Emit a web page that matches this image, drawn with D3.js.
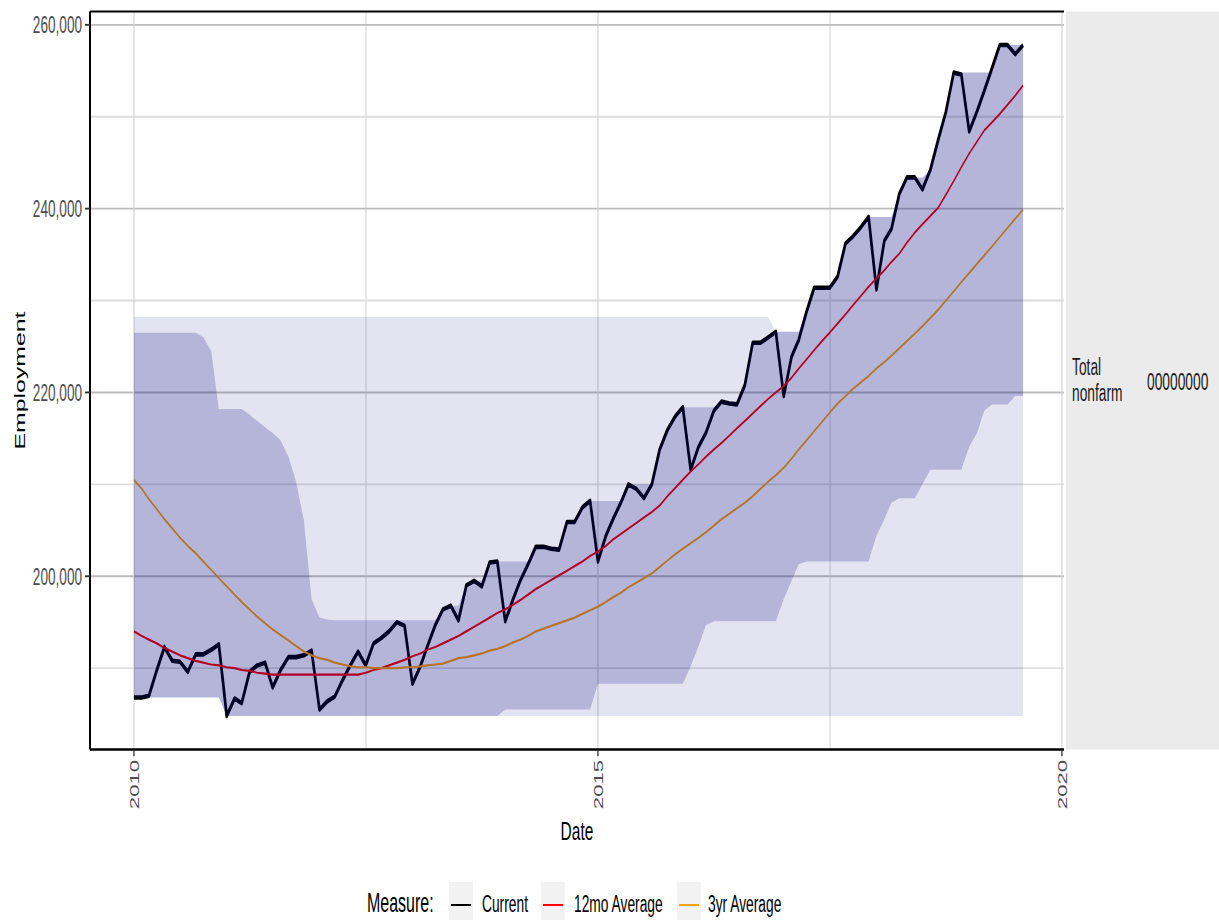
<!DOCTYPE html>
<html><head><meta charset="utf-8">
<script src="https://cdn.jsdelivr.net/npm/d3@7"></script>
<style>html,body{margin:0;padding:0;background:#fff;} svg{display:block;}</style>
</head><body><div id="chart"></div>
<script>
// ---- data (thousands of employees), monthly from Jan 2010 ----
const startYear = 2010;
const current = [
186.8,186.8,187.0,189.8,192.3,190.8,190.7,189.6,191.5,191.5,192.0,192.6,
184.8,186.7,186.2,189.6,190.3,190.6,187.9,189.8,191.2,191.2,191.4,191.9,
185.5,186.4,186.9,188.7,190.3,191.8,190.3,192.7,193.3,194.0,195.0,194.6,
188.3,190.2,192.4,194.7,196.4,196.8,195.2,199.0,199.5,198.9,201.5,201.6,
195.1,197.5,199.5,201.3,203.2,203.2,203.0,202.9,205.9,205.9,207.5,208.2,
201.6,204.4,206.2,208.0,210.0,209.5,208.5,210.0,213.8,215.9,217.4,218.4,
211.6,214.1,215.6,218.0,219.0,218.8,218.7,220.8,225.4,225.4,226.0,226.6,
219.6,223.9,225.7,228.8,231.4,231.4,231.4,232.6,236.2,237.0,238.0,239.1,
231.2,236.5,237.8,241.6,243.4,243.4,242.1,244.2,247.5,250.5,254.8,254.6,
248.4,250.6,252.8,255.3,257.8,257.8,256.8,257.8];
const avg12 = [
194.0,193.5,193.1,192.7,192.2,191.8,191.4,191.1,190.8,190.6,190.4,190.3,
190.1,190.0,189.8,189.7,189.5,189.4,189.3,189.3,189.3,189.3,189.3,189.3,
189.3,189.3,189.3,189.3,189.3,189.3,189.5,189.8,190.0,190.3,190.6,190.9,
191.3,191.6,192.0,192.3,192.7,193.1,193.5,194.0,194.5,195.0,195.5,196.0,
196.4,196.9,197.4,198.0,198.6,199.1,199.6,200.1,200.6,201.1,201.6,202.2,
202.7,203.3,204.0,204.6,205.2,205.8,206.4,207.0,207.7,208.7,209.6,210.5,
211.4,212.2,213.0,213.8,214.5,215.3,216.1,216.9,217.7,218.5,219.3,220.0,
220.7,221.6,222.6,223.6,224.6,225.6,226.5,227.5,228.5,229.5,230.5,231.5,
232.4,233.3,234.2,235.1,236.3,237.4,238.3,239.2,240.1,241.5,243.0,244.5,
246.0,247.3,248.5,249.4,250.3,251.3,252.3,253.4];
const avg3y = [
210.5,209.5,208.4,207.3,206.2,205.2,204.2,203.3,202.5,201.6,200.7,199.8,
198.9,198.0,197.2,196.4,195.6,194.9,194.2,193.6,193.0,192.4,191.8,191.4,
191.1,190.9,190.6,190.4,190.2,190.1,190.1,190.0,190.0,190.0,190.0,190.1,
190.1,190.2,190.3,190.4,190.5,190.8,191.1,191.2,191.4,191.6,191.9,192.1,
192.4,192.8,193.1,193.5,194.0,194.3,194.6,194.9,195.2,195.5,195.9,196.3,
196.7,197.2,197.7,198.2,198.8,199.3,199.8,200.3,201.0,201.7,202.4,203.0,
203.6,204.2,204.8,205.5,206.2,206.8,207.4,208.0,208.7,209.5,210.3,211.0,
211.8,212.8,213.8,214.8,215.8,216.8,217.8,218.8,219.6,220.4,221.1,221.8,
222.6,223.3,224.0,224.8,225.6,226.4,227.2,228.1,229.0,230.0,231.0,232.0,
233.0,234.0,234.9,235.9,236.9,237.9,238.9,239.9];
// 3-year range band (darker)
const band3Lo = [
186.8,186.8,186.8,186.8,186.8,186.8,186.8,186.8,186.8,186.8,186.8,186.8,
184.8,184.8,184.8,184.8,184.8,184.8,184.8,184.8,184.8,184.8,184.8,184.8,
184.8,184.8,184.8,184.8,184.8,184.8,184.8,184.8,184.8,184.8,184.8,184.8,
184.8,184.8,184.8,184.8,184.8,184.8,184.8,184.8,184.8,184.8,184.8,184.8,
185.5,185.5,185.5,185.5,185.5,185.5,185.5,185.5,185.5,185.5,185.5,185.5,
188.3,188.3,188.3,188.3,188.3,188.3,188.3,188.3,188.3,188.3,188.3,188.3,
190.2,192.4,194.7,195.1,195.1,195.1,195.1,195.1,195.1,195.1,195.1,195.1,
197.5,199.5,201.3,201.6,201.6,201.6,201.6,201.6,201.6,201.6,201.6,201.6,
204.4,206.2,208.0,208.5,208.5,208.5,210.0,211.6,211.6,211.6,211.6,211.6,
214.1,215.6,218.0,218.7,218.7,218.7,219.6,219.6];
const band3Hi = [
226.5,226.5,226.5,226.5,226.5,226.5,226.5,226.5,226.5,226.0,224.5,218.2,
218.2,218.2,218.2,217.6,216.9,216.2,215.6,214.8,213.0,210.3,206.0,197.5,
195.5,195.3,195.2,195.2,195.2,195.2,195.2,195.2,195.2,195.2,195.2,195.2,
195.2,195.2,195.2,195.2,196.4,196.8,196.8,199.0,199.5,199.5,201.5,201.6,
201.6,201.6,201.6,201.6,203.2,203.2,203.2,203.2,205.9,205.9,207.5,208.2,
208.2,208.2,208.2,208.2,210.0,210.0,210.0,210.0,213.8,215.9,217.4,218.4,
218.4,218.4,218.4,218.4,219.0,219.0,219.0,220.8,225.4,225.4,226.0,226.6,
226.6,226.6,226.6,228.8,231.4,231.4,231.4,232.6,236.2,237.0,238.0,239.1,
239.1,239.1,239.1,241.6,243.4,243.4,243.4,244.2,247.5,250.5,254.8,254.8,
254.8,254.8,254.8,254.8,257.8,257.8,257.8,257.8];
// long-run range band (lighter)
const band10Lo = [
186.8,186.8,186.8,186.8,186.8,186.8,186.8,186.8,186.8,186.8,186.8,186.8,
184.8,184.8,184.8,184.8,184.8,184.8,184.8,184.8,184.8,184.8,184.8,184.8,
184.8,184.8,184.8,184.8,184.8,184.8,184.8,184.8,184.8,184.8,184.8,184.8,
184.8,184.8,184.8,184.8,184.8,184.8,184.8,184.8,184.8,184.8,184.8,184.8,
184.8,184.8,184.8,184.8,184.8,184.8,184.8,184.8,184.8,184.8,184.8,184.8,
184.8,184.8,184.8,184.8,184.8,184.8,184.8,184.8,184.8,184.8,184.8,184.8,
184.8,184.8,184.8,184.8,184.8,184.8,184.8,184.8,184.8,184.8,184.8,184.8,
184.8,184.8,184.8,184.8,184.8,184.8,184.8,184.8,184.8,184.8,184.8,184.8,
184.8,184.8,184.8,184.8,184.8,184.8,184.8,184.8,184.8,184.8,184.8,184.8,
184.8,184.8,184.8,184.8,184.8,184.8,184.8,184.8];
const band10Hi = [
228.2,228.2,228.2,228.2,228.2,228.2,228.2,228.2,228.2,228.2,228.2,228.2,
228.2,228.2,228.2,228.2,228.2,228.2,228.2,228.2,228.2,228.2,228.2,228.2,
228.2,228.2,228.2,228.2,228.2,228.2,228.2,228.2,228.2,228.2,228.2,228.2,
228.2,228.2,228.2,228.2,228.2,228.2,228.2,228.2,228.2,228.2,228.2,228.2,
228.2,228.2,228.2,228.2,228.2,228.2,228.2,228.2,228.2,228.2,228.2,228.2,
228.2,228.2,228.2,228.2,228.2,228.2,228.2,228.2,228.2,228.2,228.2,228.2,
228.2,228.2,228.2,228.2,228.2,228.2,228.2,228.2,228.2,228.2,228.2,226.6,
226.6,226.6,226.6,228.8,231.4,231.4,231.4,232.6,236.2,237.0,238.0,239.1,
239.1,239.1,239.1,241.6,243.4,243.4,243.4,244.2,247.5,250.5,254.8,254.8,
254.8,254.8,254.8,254.8,257.8,257.8,257.8,257.8];

const yMajorTicks = [200, 220, 240, 260];
const yMinorTicks = [190, 210, 230, 250];
const xMajorTicks = [2010, 2015, 2020];
const xMinorTicks = [2012.5, 2017.5];
const xDomainYears = [2009.526, 2020.022];
const legendTitle = "Measure:";
const legendLabels = ["Current", "12mo Average", "3yr Average"];
const legendColors = ["#000000", "#ff0000", "#ffa500"];
const stripLabel = ["Total", "nonfarm"];
const stripCode = "00000000";
const xTitle = "Date", yTitle = "Employment";

// ---- layout ----
const W = 1219, H = 920, S = 1.7; // picture is stretched vertically
const L = 90, R = 1064, T = 11.5 / S, B = 749.5 / S;
const FONT = "'Liberation Sans', Arial, sans-serif";

const dates = current.map((_, i) => Date.UTC(startYear, i, 1));
const yr = v => { const f = Math.floor(v); return Date.UTC(f, 0, 1) + (v - f) * (Date.UTC(f + 1, 0, 1) - Date.UTC(f, 0, 1)); };

const x = d3.scaleUtc().domain(xDomainYears.map(yr)).range([L, R]);
const allV = current.concat(avg12, avg3y, band3Lo, band3Hi, band10Lo, band10Hi);
const vExt = d3.extent(allV);
const vPad = (vExt[1] - vExt[0]) * 0.05;
const y = d3.scaleLinear().domain([vExt[0] - vPad, vExt[1] + vPad]).range([B, T]);

const svg = d3.select("#chart").append("svg").attr("width", W).attr("height", H);
svg.append("rect").attr("width", W).attr("height", H).attr("fill", "#fff");
const g = svg.append("g").attr("transform", `scale(1,${S})`);

// panel
g.append("rect").attr("x", L).attr("y", T).attr("width", R - L).attr("height", B - T).attr("fill", "#fff");
// grid
g.selectAll(".ymin").data(yMinorTicks).join("line")
  .attr("x1", L).attr("x2", R).attr("y1", d => y(d)).attr("y2", d => y(d))
  .attr("stroke", "#dedede").attr("stroke-width", 1.1);
g.selectAll(".xmin").data(xMinorTicks).join("line")
  .attr("x1", d => x(yr(d))).attr("x2", d => x(yr(d))).attr("y1", T).attr("y2", B)
  .attr("stroke", "#d9d9d9").attr("stroke-width", 1.2);
g.selectAll(".ymaj").data(yMajorTicks).join("line")
  .attr("x1", L).attr("x2", R).attr("y1", d => y(d)).attr("y2", d => y(d))
  .attr("stroke", "#bdbdbd").attr("stroke-width", 1.1);
g.selectAll(".xmaj").data(xMajorTicks).join("line")
  .attr("x1", d => x(yr(d))).attr("x2", d => x(yr(d))).attr("y1", T).attr("y2", B)
  .attr("stroke", "#d3d3d3").attr("stroke-width", 1.2);

// lines (drawn under the translucent ribbons)
const mkLine = arr => d3.line().x((d, i) => x(dates[i])).y(d => y(d))(arr);
g.append("path").attr("d", mkLine(current)).attr("fill", "none")
  .attr("stroke", legendColors[0]).attr("stroke-width", 2.7).attr("stroke-linejoin", "round");
g.append("path").attr("d", mkLine(avg12)).attr("fill", "none")
  .attr("stroke", legendColors[1]).attr("stroke-width", 1.3).attr("stroke-linejoin", "round");
g.append("path").attr("d", mkLine(avg3y)).attr("fill", "none")
  .attr("stroke", legendColors[2]).attr("stroke-width", 1.3).attr("stroke-linejoin", "round");

// ribbons
const mkArea = (lo, hi) => d3.area().x((d, i) => x(dates[i])).y0((d, i) => y(lo[i])).y1((d, i) => y(hi[i]))(lo);
g.append("path").attr("d", mkArea(band10Lo, band10Hi)).attr("fill", "#000080").attr("fill-opacity", 0.11);
g.append("path").attr("d", mkArea(band3Lo, band3Hi)).attr("fill", "#000080").attr("fill-opacity", 0.2);

// axes & border
g.append("line").attr("x1", L).attr("x2", R).attr("y1", T).attr("y2", T).attr("stroke", "#000").attr("stroke-width", 1.2);
g.append("line").attr("x1", L).attr("x2", L).attr("y1", T).attr("y2", B).attr("stroke", "#000").attr("stroke-width", 2);
g.append("line").attr("x1", L).attr("x2", R).attr("y1", B).attr("y2", B).attr("stroke", "#000").attr("stroke-width", 1.5);

// y ticks + labels
g.selectAll(".yt").data(yMajorTicks).join("line")
  .attr("x1", L - 5).attr("x2", L).attr("y1", d => y(d)).attr("y2", d => y(d))
  .attr("stroke", "#333").attr("stroke-width", 1.1);
g.selectAll(".yl").data(yMajorTicks).join("text")
  .attr("x", L - 8).attr("y", d => y(d)).attr("dy", "0.36em")
  .attr("text-anchor", "end").attr("font-family", FONT).attr("font-size", 13.6)
  .attr("fill", "#4d4d4d").text(d => d3.format(",")(d * 1000));
// x ticks + labels
g.selectAll(".xt").data(xMajorTicks).join("line")
  .attr("x1", d => x(yr(d))).attr("x2", d => x(yr(d))).attr("y1", B).attr("y2", B + 4)
  .attr("stroke", "#333").attr("stroke-width", 1.3);
g.selectAll(".xl").data(xMajorTicks).join("text")
  .attr("transform", d => `translate(${x(yr(d))},${760 / S}) rotate(-90)`)
  .attr("dy", "0.36em").attr("text-anchor", "end")
  .attr("font-family", FONT).attr("font-size", 13).attr("fill", "#4d4d4d").text(d => d);

// axis titles
g.append("text").attr("x", (L + R) / 2).attr("y", 840 / S).attr("text-anchor", "middle")
  .attr("font-family", FONT).attr("font-size", 15.5).attr("fill", "#000").text(xTitle);
g.append("text").attr("transform", `translate(25,${(T + B) / 2}) rotate(-90)`).attr("text-anchor", "middle")
  .attr("font-family", FONT).attr("font-size", 14.6).attr("fill", "#000").text(yTitle);

// facet strip
g.append("rect").attr("x", R + 2).attr("y", T).attr("width", W - R - 2).attr("height", B - T).attr("fill", "#ebebeb");
g.append("text").attr("font-family", FONT).attr("font-size", 13.8).attr("fill", "#1a1a1a")
  .selectAll("tspan").data(stripLabel).join("tspan")
  .attr("x", 1072).attr("y", (d, i) => (375 + i * 26) / S).text(d => d);
g.append("text").attr("x", 1147).attr("y", 390 / S).attr("font-family", FONT).attr("font-size", 13.8)
  .attr("fill", "#1a1a1a").text(stripCode);

// legend
const ly = 912 / S;
g.append("text").attr("x", 367).attr("y", ly).attr("font-family", FONT).attr("font-size", 16)
  .attr("fill", "#000").text(legendTitle);
const keyX = [449, 541, 677], labX = [482, 574, 708];
legendLabels.forEach((lab, i) => {
  g.append("rect").attr("x", keyX[i]).attr("y", 882 / S).attr("width", 24).attr("height", 40 / S).attr("fill", "#f2f2f2");
  g.append("line").attr("x1", keyX[i] + 2).attr("x2", keyX[i] + 22).attr("y1", 905 / S).attr("y2", 905 / S)
    .attr("stroke", legendColors[i]).attr("stroke-width", 1.2);
  g.append("text").attr("x", labX[i]).attr("y", ly).attr("font-family", FONT).attr("font-size", 13.8)
    .attr("fill", "#000").text(lab);
});
</script></body></html>
